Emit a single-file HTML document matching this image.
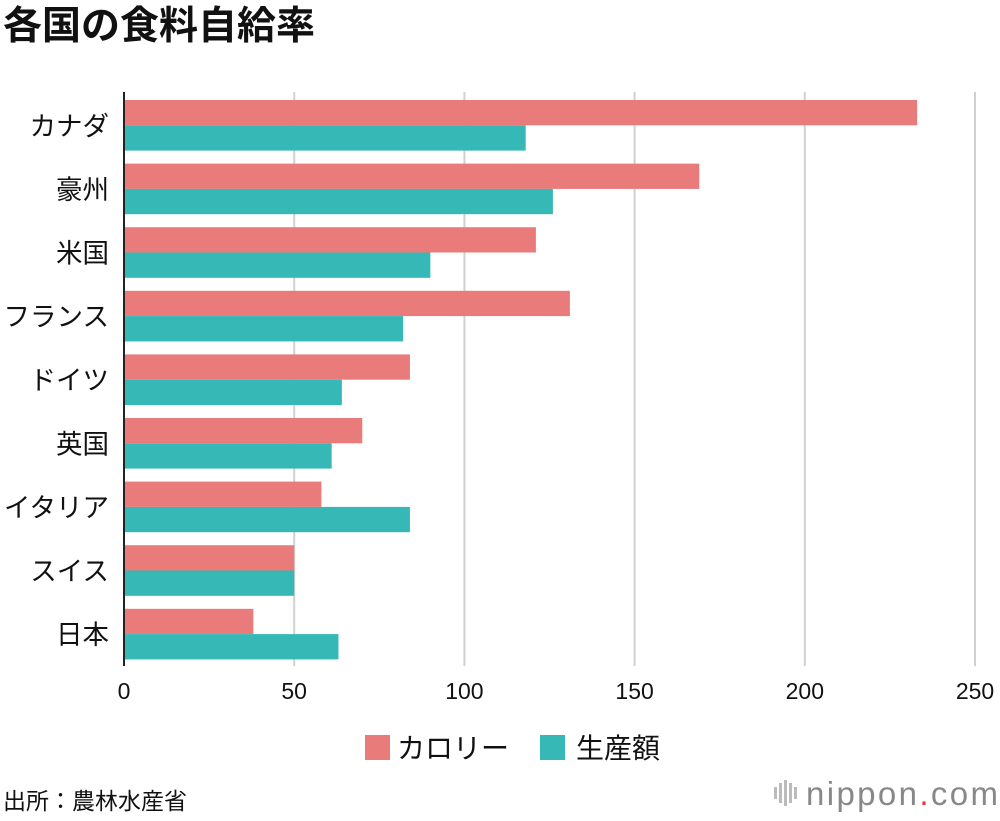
<!DOCTYPE html>
<html><head><meta charset="utf-8">
<style>
body{margin:0;width:1000px;height:816px;background:#fff;overflow:hidden;font-family:"Liberation Sans","Noto Sans CJK JP",sans-serif;}
svg text{font-family:"Liberation Sans","Noto Sans CJK JP",sans-serif;}
</style></head><body>
<svg id="chart" width="1000" height="816" xmlns="http://www.w3.org/2000/svg">
<text x="3" y="39" font-size="39" font-weight="bold" fill="#111">各国の食料自給率</text>
<g id="grid"></g>
<g id="bars"></g>
<g id="labels"></g>
<line x1="124" y1="92" x2="124" y2="666" stroke="#222" stroke-width="2"/>
<g>
<rect x="365" y="735" width="25" height="25" fill="#e97c7a"/>
<text x="397" y="758" font-size="28" fill="#111">カロリー</text>
<rect x="540" y="735" width="25" height="25" fill="#35b8b6"/>
<text x="576" y="758" font-size="28" fill="#111">生産額</text>
</g>
<text x="3" y="809" font-size="23" fill="#111">出所：農林水産省</text>
<g>
<g fill="#bbb"><rect x="774" y="787" width="3" height="12"/><rect x="779" y="783" width="3" height="20"/><rect x="784" y="780" width="3" height="26"/><rect x="789" y="783" width="3" height="20"/><rect x="794" y="787" width="3" height="12"/></g>
<text x="806" y="805" font-size="33" fill="#888" textLength="192">nippon<tspan fill="#e53935">.</tspan>com</text>
</g>
</svg>
<script>
const categories=["カナダ","豪州","米国","フランス","ドイツ","英国","イタリア","スイス","日本"];
const calorieValues=[233,169,121,131,84,70,58,50,38];
const productionValues=[118,126,90,82,64,61,84,50,63];
const tickValues=[0,50,100,150,200,250];
const NS="http://www.w3.org/2000/svg";
const x0=124,x1=975,xMax=250;
function xs(v){return x0+(v/xMax)*(x1-x0);}
const top0=100,pitch=63.6,barH=25.3;
function ys(i){return top0+i*pitch;}
function mk(tag,attrs,parent){const e=document.createElementNS(NS,tag);for(const k in attrs)e.setAttribute(k,attrs[k]);parent.appendChild(e);return e;}
const grid=document.getElementById('grid'),bars=document.getElementById('bars'),labels=document.getElementById('labels');
tickValues.forEach(t=>{
 if(t>0){const l=mk('line',{x1:xs(t),x2:xs(t),y1:92,y2:666,stroke:'#d0d0d0','stroke-width':2},grid);
 
 }
 const tx=mk('text',{x:xs(t),y:699,'font-size':23,'text-anchor':'middle',fill:'#111'},labels);
 tx.textContent=t;
 
 
});
categories.forEach((c,i)=>{
 const y=ys(i);
 const r1=mk('rect',{x:x0,y:y,width:xs(calorieValues[i])-x0,height:barH,fill:'#e97c7a'},bars);
 
 
 const r2=mk('rect',{x:x0,y:y+barH,width:xs(productionValues[i])-x0,height:barH,fill:'#35b8b6'},bars);
 
 
 const t=mk('text',{x:109,y:y+barH+10,'font-size':26.5,'text-anchor':'end',fill:'#111'},labels);
 t.textContent=c;
 
 
});
</script>
</body></html>
